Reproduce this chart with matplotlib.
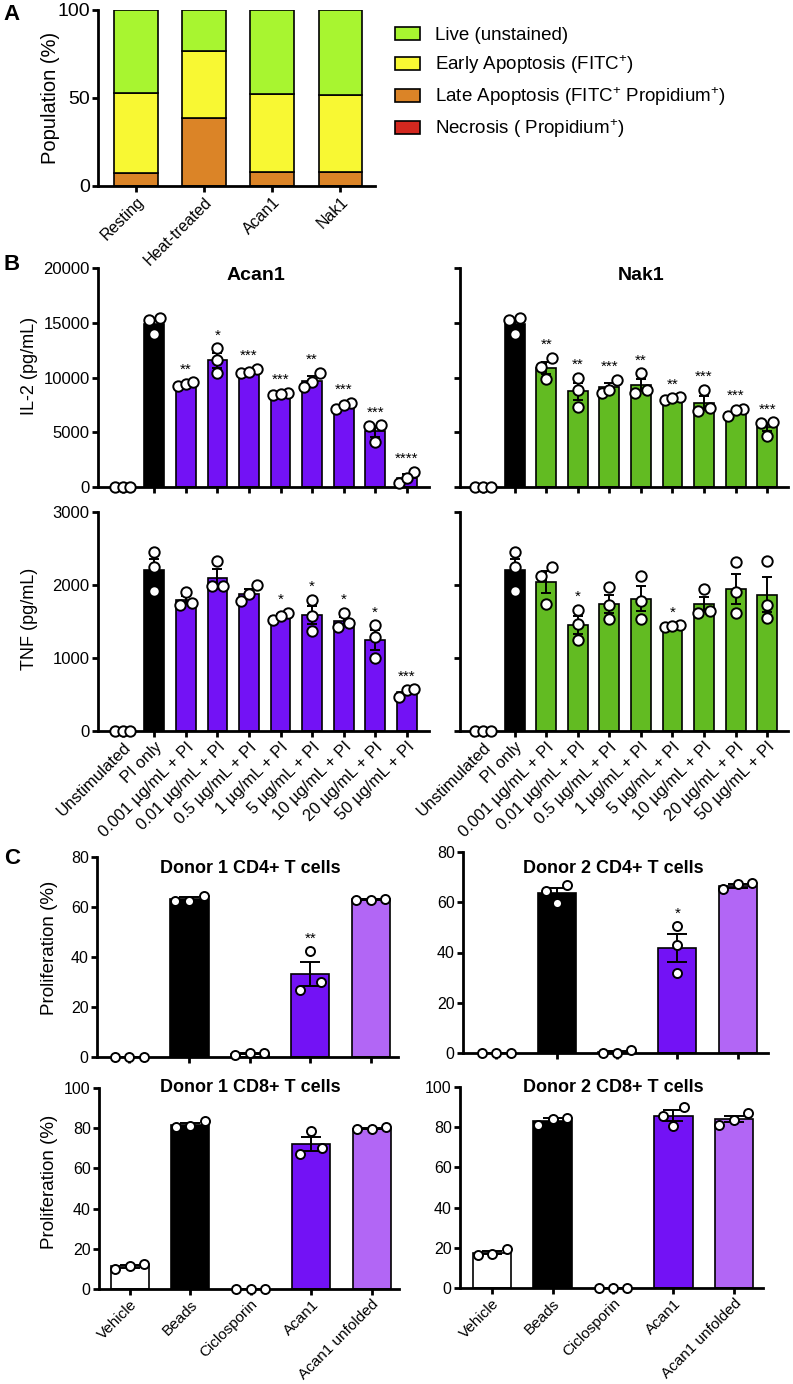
import numpy as np
import matplotlib
matplotlib.use('Agg')
import matplotlib.pyplot as plt
from matplotlib.patches import Patch

plt.rcParams['font.family'] = ['Liberation Sans', 'DejaVu Sans']
plt.rcParams['mathtext.fontset'] = 'custom'
plt.rcParams['mathtext.rm'] = 'Liberation Sans'
plt.rcParams['mathtext.it'] = 'Liberation Sans:italic'
plt.rcParams['mathtext.bf'] = 'Liberation Sans:bold'

# ---------------- data ----------------
# panel A: stacked population (%)
a_groups = ['Resting', 'Heat-treated', 'Acan1', 'Nak1']
a_necrosis = [0.0, 0.0, 0.0, 0.0]
a_late = [7.5, 38.5, 8.1, 7.8]
a_early = [45.2, 38.4, 44.0, 43.9]
a_live = [100 - n - l - e for n, l, e in zip(a_necrosis, a_late, a_early)]
a_labels = ['Live (unstained)', 'Early Apoptosis (FITC$^{+}$)',
            'Late Apoptosis (FITC$^{+}$ Propidium$^{+}$)', 'Necrosis ( Propidium$^{+}$)']

# panel B: cytokines, three replicates per condition
b_groups = ['Unstimulated', 'PI only', '0.001 µg/mL + PI', '0.01 µg/mL + PI',
            '0.5 µg/mL + PI', '1 µg/mL + PI', '5 µg/mL + PI', '10 µg/mL + PI',
            '20 µg/mL + PI', '50 µg/mL + PI']
il2_acan1 = [[0, 0, 0], [15400, 15250, 13950], [9250, 9400, 9600], [12700, 11600, 10400],
             [10400, 10800, 10500], [8400, 8600, 8500], [10450, 9550, 9100],
             [7100, 7700, 7450], [5640, 4100, 5550], [1400, 350, 800]]
il2_nak1 = [[0, 0, 0], [15400, 15250, 13950], [11800, 11000, 9900], [10000, 8900, 7300],
            [9800, 8600, 8900], [10400, 8600, 8900], [7900, 8200, 8100],
            [8900, 6900, 7200], [6500, 7150, 7000], [5900, 5850, 4700]]
tnf_acan1 = [[0, 0, 0], [2450, 2240, 1920], [1900, 1720, 1760], [2330, 1980, 1990],
             [2000, 1780, 1870], [1520, 1620, 1570], [1800, 1580, 1370],
             [1430, 1620, 1480], [1450, 1290, 1000], [470, 560, 570]]
tnf_nak1 = [[0, 0, 0], [2450, 2240, 1920], [2250, 2120, 1740], [1660, 1460, 1240],
            [1970, 1720, 1540], [2130, 1780, 1530], [1430, 1450, 1440],
            [1950, 1610, 1640], [2310, 1910, 1610], [2330, 1720, 1550]]
il2_acan1_sig = ['', '', '**', '*', '***', '***', '**', '***', '***', '****']
il2_nak1_sig = ['', '', '**', '**', '***', '**', '**', '***', '***', '***']
tnf_acan1_sig = ['', '', '', '', '', '*', '*', '*', '*', '***']
tnf_nak1_sig = ['', '', '', '*', '', '', '*', '', '', '']

# panel C: proliferation (%)
c_groups = ['Vehicle', 'Beads', 'Ciclosporin', 'Acan1', 'Acan1 unfolded']
d1_cd4 = [[0.2, 0.2, 0.2], [62.5, 64.5, 62.5], [0.9, 1.6, 1.6], [42.4, 27.0, 30.0], [63.0, 63.0, 63.2]]
d2_cd4 = [[0.1, 0.1, 0.1], [66.7, 64.4, 59.6], [0.1, 1.1, 0.1], [50.4, 43.1, 31.7], [67.1, 67.5, 65.1]]
d1_cd8 = [[9.9, 12.4, 11.6], [80.5, 83.5, 80.9], [0.2, 0.2, 0.2], [78.5, 67.3, 70.3], [79.4, 80.5, 79.4]]
d2_cd8 = [[16.6, 19.2, 17.1], [81.1, 84.6, 84.1], [0.1, 0.1, 0.1], [90.2, 85.8, 80.8], [83.8, 87.1, 81.3]]
d1_cd4_sig = ['', '', '', '**', '']
d2_cd4_sig = ['', '', '', '*', '']

# ---------------- style ----------------
W, H = 793, 1384
PURPLE = '#7312F5'
GREEN = '#62BB22'
LILAC = '#B266F5'
A_COLORS = ['#A8F530', '#F8F833', '#DB8427', '#D3281F']

fig = plt.figure(figsize=(W / 100, H / 100), dpi=100)


def px_axes(left, top, right, bottom):
    return fig.add_axes([left / W, 1 - bottom / H, (right - left) / W, (bottom - top) / H])


def fig_text(x, y, s, **kw):
    fig.text(x / W, 1 - y / H, s, **kw)


def style(ax, size=12):
    for s in ['top', 'right']:
        ax.spines[s].set_visible(False)
    for s in ['left', 'bottom']:
        ax.spines[s].set_linewidth(2)
    ax.tick_params(direction='out', length=4, width=2, labelsize=size, pad=2)


def swarm(vals, px_per_unit, d_px, step):
    # spread replicate dots that would overlap vertically
    vals = np.asarray(vals, float)
    order = np.argsort(vals, kind='stable')
    offs = np.zeros(len(vals))
    clusters, cur = [], [order[0]]
    for i in order[1:]:
        if (vals[i] - vals[cur[-1]]) * px_per_unit < d_px:
            cur.append(i)
        else:
            clusters.append(cur)
            cur = [i]
    clusters.append(cur)
    for c in clusters:
        n = len(c)
        if n == 2:
            offs[c[0]], offs[c[1]] = -0.75 * step, 0.75 * step
        elif n >= 3:
            for k, i in enumerate(c):
                offs[i] = (k - (n - 1) / 2) * step
    return offs


def dot_bars(ax, groups, colors, ymax, h_px, space_px, ms, sig=None, star_size=11):
    xs = np.arange(len(groups))
    width = 0.63
    means = np.array([np.mean(g) for g in groups])
    sems = np.array([np.std(g, ddof=1) / np.sqrt(len(g)) for g in groups])
    ax.bar(xs, means, width=width, color=colors, edgecolor='black', linewidth=1.2, zorder=2)
    cap = width * space_px * 0.27 / 1.389
    ax.errorbar(xs, means, yerr=sems, fmt='none', ecolor='black', elinewidth=1.4,
                capsize=cap, capthick=1.4, zorder=3)
    for i, g in enumerate(groups):
        offs = swarm(g, h_px / ymax, 10, 0.38 * width)
        ax.plot(i + offs, g, 'o', mfc='white', mec='black', ms=ms, mew=1.4,
                zorder=4, clip_on=False)
        if sig and sig[i]:
            top = max(max(g), means[i] + sems[i])
            ax.annotate(sig[i], (i, top), xytext=(0, 4), textcoords='offset points',
                        ha='center', va='bottom', fontsize=star_size)
    ax.set_xticks(xs)
    ax.set_ylim(0, ymax)


# ---------------- panel A ----------------
ax = px_axes(98, 10, 375, 186)
style(ax, 14)
xa = np.arange(len(a_groups))
bottom = np.zeros(len(a_groups))
for vals, col in zip([a_necrosis, a_late, a_early, a_live], A_COLORS[::-1]):
    ax.bar(xa, vals, bottom=bottom, width=0.64, color=col, edgecolor='black', linewidth=1.2)
    bottom += np.array(vals)
ax.set_ylim(0, 100)
ax.set_xlim(-0.56, 3.51)
ax.set_yticks([0, 50, 100])
ax.set_xticks(xa)
ax.set_xticklabels(a_groups, rotation=45, ha='right', rotation_mode='anchor', fontsize=11.5)
handles = [Patch(facecolor=c, edgecolor='black', linewidth=1.2) for c in A_COLORS]
fig.legend(handles, a_labels, loc='upper left', bbox_to_anchor=(395 / W, 1 - 27 / H),
           frameon=False, fontsize=13.5, handlelength=1.35, handleheight=0.7,
           handletextpad=0.8, labelspacing=0.5, borderaxespad=0, borderpad=0)
fig_text(50, 98, 'Population (%)', rotation=90, fontsize=14.5, ha='center', va='center')
fig_text(12, 15, 'A', fontsize=16, fontweight='bold', ha='center', va='center')

# ---------------- panel B ----------------
b_left = [PURPLE if i > 1 else ('white' if i == 0 else 'black') for i in range(len(b_groups))]
b_right = [GREEN if i > 1 else ('white' if i == 0 else 'black') for i in range(len(b_groups))]

panels_b = [
    ((98, 268, 429, 487), (-0.79, 9.71), il2_acan1, b_left, 20000, il2_acan1_sig, True, False),
    ((460, 268, 788, 487), (-0.73, 9.66), il2_nak1, b_right, 20000, il2_nak1_sig, False, False),
    ((98, 512, 429, 731), (-0.79, 9.71), tnf_acan1, b_left, 3000, tnf_acan1_sig, True, True),
    ((460, 512, 788, 731), (-0.73, 9.66), tnf_nak1, b_right, 3000, tnf_nak1_sig, False, True),
]
for box, xl, data, cols, ymax, sig, ylab, xlab in panels_b:
    ax = px_axes(*box)
    style(ax, 12)
    space = (box[2] - box[0]) / (xl[1] - xl[0])
    dot_bars(ax, data, cols, ymax, box[3] - box[1], space, ms=7.5, sig=sig, star_size=11)
    ax.set_xlim(*xl)
    ax.set_yticks(np.linspace(0, ymax, 5 if ymax == 20000 else 4))
    if not ylab:
        ax.tick_params(labelleft=False)
    if xlab:
        ax.set_xticklabels(b_groups, rotation=45, ha='right', rotation_mode='anchor', fontsize=12)
    else:
        ax.tick_params(labelbottom=False)

fig_text(256, 276, 'Acan1', fontsize=14, fontweight='bold', ha='center', va='center')
fig_text(641, 276, 'Nak1', fontsize=14, fontweight='bold', ha='center', va='center')
fig_text(30, 366, 'IL-2 (pg/mL)', rotation=90, fontsize=13, ha='center', va='center')
fig_text(30, 619, 'TNF (pg/mL)', rotation=90, fontsize=13, ha='center', va='center')
fig_text(12, 264, 'B', fontsize=16, fontweight='bold', ha='center', va='center')

# ---------------- panel C ----------------
c_cols = ['white', 'black', 'white', PURPLE, LILAC]
panels_c = [
    ((97, 857, 398, 1057), (-0.53, 4.45), d1_cd4, 80, d1_cd4_sig, 'Donor 1 CD4+ T cells', (250, 868), False),
    ((463, 852, 768, 1053), (-0.55, 4.50), d2_cd4, 80, d2_cd4_sig, 'Donor 2 CD4+ T cells', (613, 868), False),
    ((99, 1088, 399, 1289), (-0.51, 4.45), d1_cd8, 100, None, 'Donor 1 CD8+ T cells', (250, 1087), True),
    ((460, 1087, 763, 1288), (-0.53, 4.48), d2_cd8, 100, None, 'Donor 2 CD8+ T cells', (613, 1087), True),
]
for box, xl, data, ymax, sig, title, tpos, xlab in panels_c:
    ax = px_axes(*box)
    style(ax, 11.5)
    space = (box[2] - box[0]) / (xl[1] - xl[0])
    dot_bars(ax, data, c_cols, ymax, box[3] - box[1], space, ms=6.5, sig=sig, star_size=11)
    ax.set_xlim(*xl)
    ax.set_yticks(np.arange(0, ymax + 1, 20))
    if xlab:
        ax.set_xticklabels(c_groups, rotation=45, ha='right', rotation_mode='anchor', fontsize=11)
    else:
        ax.tick_params(labelbottom=False)
    fig_text(tpos[0], tpos[1], title, fontsize=13, fontweight='bold', ha='center', va='center')

fig_text(50, 948, 'Proliferation (%)', rotation=90, fontsize=13.5, ha='center', va='center')
fig_text(50, 1182, 'Proliferation (%)', rotation=90, fontsize=13.5, ha='center', va='center')
fig_text(12, 858, 'C', fontsize=16, fontweight='bold', ha='center', va='center')

fig.savefig('out.png', dpi=100)
